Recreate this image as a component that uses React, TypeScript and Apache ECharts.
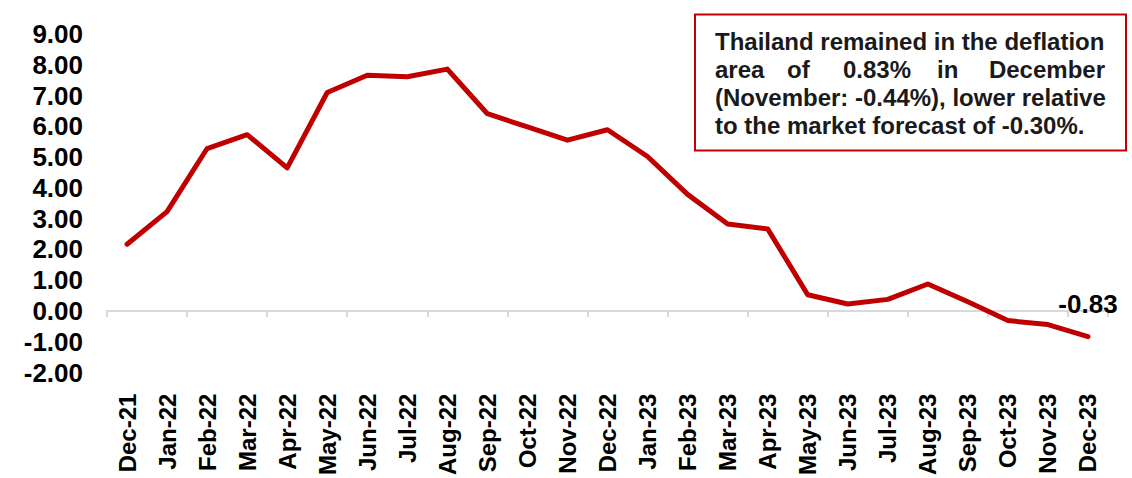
import React, { useEffect, useRef } from "react";
import * as echarts from "echarts";

const categories = [
  "Dec-21", "Jan-22", "Feb-22", "Mar-22", "Apr-22", "May-22", "Jun-22", "Jul-22", "Aug-22",
  "Sep-22", "Oct-22", "Nov-22", "Dec-22", "Jan-23", "Feb-23", "Mar-23", "Apr-23", "May-23",
  "Jun-23", "Jul-23", "Aug-23", "Sep-23", "Oct-23", "Nov-23", "Dec-23",
];
const inflation = [
  2.17, 3.23, 5.28, 5.73, 4.65, 7.1, 7.66, 7.61, 7.86, 6.41, 5.98, 5.55, 5.89, 5.02, 3.79,
  2.83, 2.67, 0.53, 0.23, 0.38, 0.88, 0.3, -0.31, -0.44, -0.83,
];
const yMin = -2;
const yMax = 9;
const yStep = 1;

const noteLine1 = "Thailand remained in the deflation";
const noteLine2Words = ["area", "of", "0.83%", "in", "December"];
const noteLine3 = "(November: -0.44%), lower relative";
const noteLine4 = "to the market forecast of -0.30%.";

const FONT = '"Liberation Sans", Arial, Helvetica, sans-serif';
const RED = "#c00000";

export default function App() {
  const ref = useRef<HTMLDivElement>(null);

  useEffect(() => {
    if (!ref.current) return;
    const chart = echarts.init(ref.current, null, { renderer: "svg" });
    const lastIdx = inflation.length - 1;
    const seriesData = inflation.map((v, i) =>
      i === lastIdx
        ? {
            value: v,
            label: {
              show: true,
              position: "top",
              distance: 20,
              formatter: (p: any) => Number(p.value).toFixed(2),
              fontSize: 26,
              fontWeight: "bold",
              fontFamily: FONT,
              color: "#000",
            },
          }
        : v
    );

    const textStyle = {
      fill: "#1a1a1a",
      fontSize: 24,
      fontWeight: "bold",
      fontFamily: FONT,
      verticalAlign: "middle",
    };
    const line2X = [715, 787, 843, 937, 1105];

    chart.setOption({
      animation: false,
      grid: { left: 107, right: 24, top: 34, bottom: 104.5, containLabel: false },
      xAxis: [
        {
          type: "category",
          data: categories,
          position: "bottom",
          boundaryGap: true,
          axisLine: { show: false, onZero: false },
          axisTick: { show: false },
          axisLabel: {
            rotate: 90,
            margin: 21,
            fontSize: 24,
            fontWeight: "bold",
            fontFamily: FONT,
            color: "#000",
            interval: 0,
          },
          splitLine: { show: false },
        },
        {
          type: "category",
          data: categories,
          position: "bottom",
          boundaryGap: true,
          axisLine: { show: true, onZero: true, lineStyle: { color: "#d9d9d9", width: 2 } },
          axisTick: { show: true, length: 6, lineStyle: { color: "#d9d9d9", width: 2 } },
          axisLabel: { show: false },
          splitLine: { show: false },
        },
      ],
      yAxis: {
        type: "value",
        min: yMin,
        max: yMax,
        interval: yStep,
        axisLine: { show: false },
        axisTick: { show: false },
        splitLine: { show: false },
        axisLabel: {
          margin: 24,
          formatter: (v: number) => v.toFixed(2),
          fontSize: 26,
          fontWeight: "bold",
          fontFamily: FONT,
          color: "#000",
        },
      },
      series: [
        {
          type: "line",
          xAxisIndex: 0,
          data: seriesData,
          symbol: "circle",
          symbolSize: 0,
          showSymbol: true,
          itemStyle: { color: RED },
          lineStyle: { color: RED, width: 5, cap: "round", join: "round" },
          labelLayout: { hideOverlap: false },
          z: 5,
        },
      ],
      graphic: [
        {
          type: "rect",
          shape: { x: 695, y: 14.5, width: 431, height: 136 },
          style: { fill: "#fff", stroke: RED, lineWidth: 2 },
          z: 10,
        },
        {
          type: "text",
          x: 715,
          y: 41,
          style: { ...textStyle, text: noteLine1, align: "left" },
          z: 11,
        },
        ...noteLine2Words.map((w, i) => ({
          type: "text",
          x: line2X[i],
          y: 69,
          style: { ...textStyle, text: w, align: i === noteLine2Words.length - 1 ? "right" : "left" },
          z: 11,
        })),
        {
          type: "text",
          x: 715,
          y: 97,
          style: { ...textStyle, text: noteLine3, align: "left" },
          z: 11,
        },
        {
          type: "text",
          x: 715,
          y: 125,
          style: { ...textStyle, text: noteLine4, align: "left" },
          z: 11,
        },
      ],
    });
    return () => chart.dispose();
  }, []);

  return (
    <div
      ref={ref}
      style={{ position: "fixed", left: 0, top: 0, width: 1132, height: 478, background: "#fff" }}
    />
  );
}
